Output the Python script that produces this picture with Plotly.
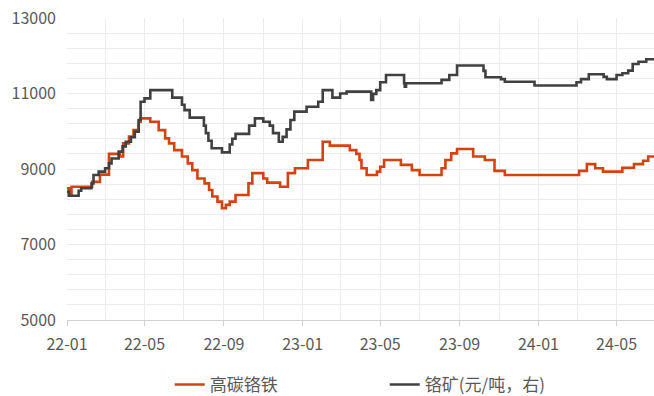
import plotly.graph_objects as go

# 高碳铬铁 (step series: date when level starts, value)
ferro_dates = [
    "2022-01-01", "2022-01-04", "2022-01-08", "2022-02-09", "2022-02-21", "2022-03-07",
    "2022-03-24", "2022-03-29", "2022-04-07", "2022-04-14", "2022-04-22", "2022-04-25",
    "2022-05-10", "2022-05-23", "2022-06-02", "2022-06-08", "2022-06-16", "2022-06-28",
    "2022-07-07", "2022-07-14", "2022-07-22", "2022-08-02", "2022-08-09", "2022-08-14",
    "2022-08-22", "2022-08-29", "2022-09-04", "2022-09-10", "2022-09-19", "2022-10-09",
    "2022-10-15", "2022-11-01", "2022-11-07", "2022-11-27", "2022-12-09", "2022-12-20",
    "2023-01-09", "2023-02-01", "2023-02-12", "2023-03-15", "2023-03-25", "2023-03-30",
    "2023-04-02", "2023-04-10", "2023-04-26", "2023-05-01", "2023-05-07", "2023-06-02",
    "2023-06-19", "2023-07-01", "2023-08-04", "2023-08-10", "2023-08-19", "2023-08-28",
    "2023-09-22", "2023-10-10", "2023-10-25", "2023-11-10", "2024-03-04", "2024-03-16",
    "2024-03-29", "2024-04-10", "2024-05-10", "2024-05-28", "2024-06-11", "2024-06-19",
    "2024-06-28",
]
ferro_values = [
    8490, 8310, 8530, 8660, 8850, 9400,
    9330, 9680, 9860, 10030, 10250, 10340,
    10250, 10030, 9810, 9680, 9500, 9330,
    9150, 8970, 8750, 8620, 8445, 8270,
    8135, 7960, 8050, 8135, 8310, 8620,
    8890, 8750, 8640, 8530, 8890, 9020,
    9240, 9720, 9620, 9500, 9400, 9240,
    9020, 8840, 8930, 9060, 9240, 9110,
    8970, 8840, 9020, 9240, 9415, 9530,
    9330, 9240, 8950, 8840, 8950, 9130,
    9020, 8930, 9035, 9130, 9220, 9330,
    9330,
]

# 铬矿(元/吨，右)
ore_dates = [
    "2022-01-01", "2022-01-04", "2022-01-19", "2022-01-23", "2022-02-08", "2022-02-11",
    "2022-02-19", "2022-03-01", "2022-03-07", "2022-03-11", "2022-03-22", "2022-03-28",
    "2022-04-02", "2022-04-10", "2022-04-16", "2022-04-22", "2022-04-25", "2022-05-01",
    "2022-05-10", "2022-06-13", "2022-06-28", "2022-07-02", "2022-07-10", "2022-08-01",
    "2022-08-04", "2022-08-08", "2022-08-13", "2022-08-29", "2022-09-10", "2022-09-14",
    "2022-09-19", "2022-10-10", "2022-10-19", "2022-11-01", "2022-11-11", "2022-11-16",
    "2022-11-25", "2022-12-01", "2022-12-07", "2022-12-13", "2022-12-19", "2023-01-07",
    "2023-01-25", "2023-02-01", "2023-02-16", "2023-02-28", "2023-03-10", "2023-04-17",
    "2023-04-20", "2023-04-25", "2023-05-01", "2023-05-10", "2023-06-07", "2023-06-08",
    "2023-06-10", "2023-08-04", "2023-08-16", "2023-08-28", "2023-10-08", "2023-10-11",
    "2023-11-04", "2023-11-10", "2023-12-26", "2024-02-29", "2024-03-07", "2024-03-19",
    "2024-04-11", "2024-04-16", "2024-05-01", "2024-05-10", "2024-05-19", "2024-05-26",
    "2024-06-04", "2024-06-16", "2024-06-28",
]
ore_values = [
    8400, 8290, 8425, 8490, 8620, 8840,
    8930, 9020, 9150, 9280, 9460, 9600,
    9720, 9840, 9990, 10300, 10780, 10870,
    11090, 10890, 10700, 10560, 10360, 10150,
    9950, 9750, 9550, 9440, 9650, 9800,
    9930, 10150, 10340, 10250, 10150, 9950,
    9720, 9850, 10050, 10300, 10520, 10650,
    10780, 11090, 10890, 11000, 11050, 10830,
    10990, 11090, 11300, 11490, 11270, 11180,
    11270, 11360, 11490, 11740, 11600, 11430,
    11380, 11310, 11210, 11300, 11380, 11510,
    11440, 11380, 11490, 11535, 11605, 11780,
    11840, 11906, 11906,
]

y_ticks = [5000, 7000, 9000, 11000, 13000]

FONT = "Noto Sans CJK SC, Noto Sans, sans-serif"
GRID = "#ececec"
TXT = "#595959"

fig = go.Figure()
fig.add_trace(go.Scatter(
    x=ferro_dates, y=ferro_values, mode="lines", name="高碳铬铁",
    line=dict(color="#d4420f", width=2.6, shape="hv"),
))
fig.add_trace(go.Scatter(
    x=ore_dates, y=ore_values, mode="lines", name="铬矿(元/吨，右)",
    line=dict(color="#404040", width=2.6, shape="hv"),
))

fig.update_layout(
    width=654, height=396,
    margin=dict(l=67, r=0, t=18, b=76, autoexpand=False),
    paper_bgcolor="white", plot_bgcolor="white",
    font=dict(family=FONT, size=16, color=TXT),
    showlegend=True,
    legend=dict(
        orientation="h", x=0.175, xanchor="left",
        yref="container", y=0.028, yanchor="middle",
        font=dict(size=17, color=TXT), entrywidth=170, entrywidthmode="pixels",
        bgcolor="rgba(0,0,0,0)",
    ),
)
fig.update_xaxes(
    type="date", range=["2022-01-01", "2024-06-28"],
    tick0="2022-01-01", dtick="M4", tickformat="%y-%m",
    showgrid=True, gridcolor=GRID, gridwidth=1,
    minor=dict(dtick="M2", showgrid=True, gridcolor=GRID, gridwidth=1),
    showline=True, linecolor="#d0d0d0", linewidth=1,
    ticks="outside", ticklen=5, tickcolor="#d0d0d0",
    ticklabelstandoff=5,
    tickfont=dict(size=16, color=TXT), zeroline=False,
)
fig.update_yaxes(
    range=[5000, 13000], tickvals=y_ticks, ticktext=[str(v) for v in y_ticks],
    showgrid=True, gridcolor=GRID, gridwidth=1,
    minor=dict(dtick=400, tick0=5000, showgrid=True, gridcolor=GRID, gridwidth=1),
    showline=False, ticks="", ticklabelstandoff=10,
    tickfont=dict(size=16, color=TXT), zeroline=False,
)

fig.write_html("out.html")
